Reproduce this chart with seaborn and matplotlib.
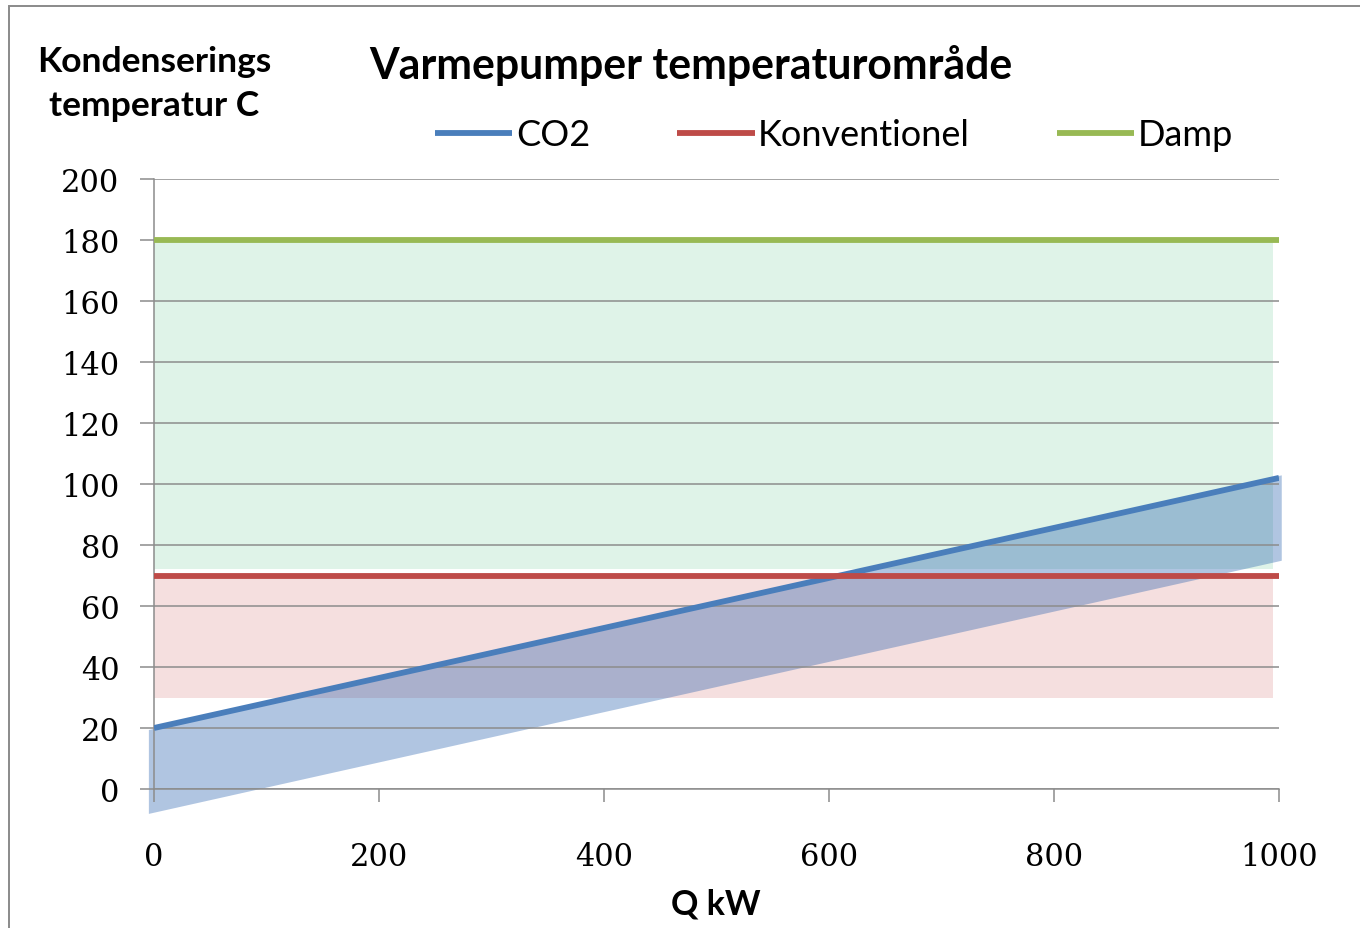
import matplotlib
matplotlib.use("Agg")
import matplotlib.pyplot as plt
import pandas as pd
import seaborn as sns
from matplotlib.patches import Rectangle

# Condensing temperature lines per heat-pump type
q_kw = [0, 1000]
co2_temp = [20, 102]
konventionel_temp = [70, 70]
damp_temp = [180, 180]

# Shaded operating ranges
damp_range_q = [0, 995]
damp_range_low = [72, 72]
damp_range_high = [180, 180]
konv_range_q = [0, 995]
konv_range_low = [30, 30]
konv_range_high = [70, 70]
co2_range_q = [-5, 1002]
co2_range_low = [-8, 75]
co2_range_high = [19.5, 103]

series_names = ["CO2", "Konventionel", "Damp"]
series_colors = ["#4A7EBB", "#BE4B48", "#98B954"]

x_ticks = [0, 200, 400, 600, 800, 1000]
y_ticks = [0, 20, 40, 60, 80, 100, 120, 140, 160, 180, 200]

title_text = "Varmepumper temperaturområde"
ylabel_text = "Kondenserings\ntemperatur C"
xlabel_text = "Q kW"

sns.set_theme(style="white")
sans = ["Lato", "DejaVu Sans"]
plt.rcParams["font.family"] = sans
plt.rcParams["text.color"] = "black"
plt.rcParams["xtick.labelcolor"] = "black"
plt.rcParams["ytick.labelcolor"] = "black"

df = pd.DataFrame({
    "Q": q_kw * 3,
    "T": co2_temp + konventionel_temp + damp_temp,
    "type": [n for n in series_names for _ in q_kw],
})

fig = plt.figure(figsize=(13.6, 9.29), dpi=100)
ax = fig.add_axes([154 / 1360, 1 - 790 / 929, 1125 / 1360, 610 / 929])

grid_c = "#8C8C8C"

# range bands
ax.fill_between(damp_range_q, damp_range_low, damp_range_high,
                color="#DFF3E8", lw=0, zorder=0.5)
ax.fill_between(konv_range_q, konv_range_low, konv_range_high,
                color="#F5DFDF", lw=0, zorder=0.5)
ax.fill_between(co2_range_q, co2_range_low, co2_range_high,
                color="#1E5AAA", alpha=0.35, lw=0, zorder=0.6, clip_on=False)

sns.lineplot(data=df, x="Q", y="T", hue="type", palette=series_colors,
             hue_order=series_names, lw=4.2, ax=ax, zorder=3,
             solid_capstyle="butt", legend=True)

ax.set_xlim(0, 1000)
ax.set_ylim(0, 200)
ax.set_xticks(x_ticks)
ax.set_yticks(y_ticks)
ax.yaxis.grid(True, color=grid_c, lw=1.1, zorder=1.5)
ax.xaxis.grid(False)
ax.set_axisbelow("line")

for s in ["top", "right"]:
    ax.spines[s].set_visible(False)
for s in ["left", "bottom"]:
    ax.spines[s].set_color(grid_c)
    ax.spines[s].set_linewidth(1.1)

ax.tick_params(axis="y", direction="out", length=10, width=1.1, color=grid_c,
               pad=15, left=True, labelsize=22, labelcolor="black")
ax.tick_params(axis="x", direction="out", length=9.4, width=1.1, color=grid_c,
               pad=28, bottom=True, labelsize=22, labelcolor="black")
for lab in ax.get_xticklabels() + ax.get_yticklabels():
    lab.set_family(["DejaVu Serif"])
ax.set_xlabel("")
ax.set_ylabel("")

handles, labels = ax.get_legend_handles_labels()
leg = ax.legend(handles, labels, loc="center",
                bbox_to_anchor=(834 / 1360, 1 - 136 / 929),
                bbox_transform=fig.transFigure, ncol=3, frameon=False,
                handlelength=2.15, handletextpad=0.1, columnspacing=2.4,
                prop={"family": sans, "size": 26})
for t in leg.get_texts():
    t.set_color("black")

fig.text(691 / 1360, 1 - 66 / 929, title_text, ha="center", va="center",
         fontsize=30.8, fontweight="bold", family=sans, color="black")
fig.text(154 / 1360, 1 - 84 / 929, ylabel_text, ha="center", va="center",
         fontsize=25.5, fontweight="bold", family=sans, linespacing=1.45,
         color="black")
fig.text(716 / 1360, 1 - 905 / 929, xlabel_text, ha="center", va="center",
         fontsize=24.5, fontweight="bold", family=sans, color="black")

fig.patches.append(Rectangle((8.5 / 1360, -0.05), 1.2, 1.05 - 6.5 / 929,
                             transform=fig.transFigure, fill=False,
                             edgecolor="#8A8A8A", lw=1.4))

fig.savefig("out.png", dpi=100)
